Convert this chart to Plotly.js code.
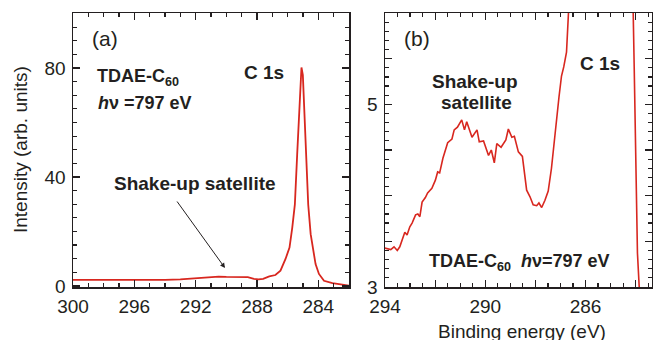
<!DOCTYPE html>
<html>
<head>
<meta charset="utf-8">
<script src="https://cdn.plot.ly/plotly-3.0.1.min.js"></script>
<style>
html,body{margin:0;padding:0;background:#fff;}
#wrap{position:relative;width:653px;height:340px;}
.panel{position:absolute;left:0;top:0;width:653px;height:340px;}
</style>
</head>
<body>
<div id="wrap"><div id="chartA" class="panel"></div><div id="chartB" class="panel"></div><div id="labels" class="panel"></div></div>
<script>
// Panel (a): full C 1s spectrum
const energyA = [300, 299, 298, 297, 296, 295, 294, 293, 292, 291.5, 291, 290.5, 290, 289.5, 289, 288.6, 288.2, 287.9, 287.6, 287.46, 287.2, 286.8, 286.47, 286.14, 285.88, 285.70, 285.53, 285.38, 285.27, 285.16, 285.10, 285.01, 284.90, 284.79, 284.66, 284.50, 284.35, 284.18, 283.96, 283.63, 283.08, 282.6, 282.1, 282.0];
const intensityA = [2.2, 2.2, 2.1, 2.1, 2.1, 2.2, 2.2, 2.4, 2.8, 3.1, 3.3, 3.4, 3.3, 3.3, 3.3, 3.2, 2.6, 2.4, 2.6, 3.0, 3.5, 4.0, 5.6, 9.9, 14.1, 21.4, 29.9, 48.2, 62.8, 77.4, 80.2, 77.4, 62.8, 48.2, 29.9, 19.0, 12.9, 8.0, 4.4, 1.9, 1.0, 0.6, 0.2, 0.1];

// Panel (b): magnified shake-up satellite region
const energyB = [294.05, 293.9, 293.77, 293.64, 293.51, 293.41, 293.31, 293.21, 293.12, 293.01, 292.92, 292.78, 292.69, 292.61, 292.52, 292.39, 292.30, 292.13, 291.99, 291.90, 291.82, 291.69, 291.50, 291.33, 291.24, 291.11, 290.94, 290.83, 290.74, 290.53, 290.33, 290.24, 290.07, 289.87, 289.76, 289.64, 289.54, 289.37, 289.18, 289.08, 288.94, 288.84, 288.68, 288.52, 288.35, 288.22, 288.09, 287.95, 287.86, 287.75, 287.62, 287.49, 287.36, 287.27, 287.16, 287.06, 286.96, 286.87, 286.76, 286.70, 286.66, 286.5, 286.0, 285.0, 284.3, 284.15, 284.10, 284.06, 283.99, 283.93, 283.86, 283.7];
const intensityB = [3.43, 3.42, 3.41, 3.44, 3.40, 3.44, 3.51, 3.60, 3.57, 3.66, 3.70, 3.79, 3.80, 3.77, 3.93, 3.98, 4.03, 4.08, 4.17, 4.26, 4.25, 4.41, 4.58, 4.62, 4.72, 4.75, 4.83, 4.72, 4.81, 4.64, 4.72, 4.59, 4.60, 4.44, 4.50, 4.36, 4.57, 4.53, 4.61, 4.73, 4.64, 4.65, 4.48, 4.43, 4.06, 3.99, 3.90, 3.89, 3.92, 3.87, 3.95, 4.05, 4.30, 4.55, 4.86, 5.08, 5.31, 5.41, 5.57, 5.84, 6.0, 7.0, 14, 100, 14, 7.0, 6.0, 5.41, 4.02, 3.37, 3.0, 2.5];

// Tick labels
const tickValsA = [284, 288, 292, 296, 300];
const tickValsB = [294, 292, 290, 288, 286, 284];
const tickTextB = ['294', '', '290', '', '286', ''];
const yTickValsB = [3, 3.5, 4, 4.5, 5, 5.5, 6];
const yTickTextB = ['3', '', '', '', '5', '', ''];

const W = 653, H = 340;
const red = '#d8271f';
const ink = '#231f20';
const FONT = 'Liberation Sans, Arial, Helvetica, sans-serif';
const px = x => x / W;
const py = y => 1 - y / H;

const axisCommon = {
  showgrid: false, zeroline: false, showline: true, linecolor: ink, linewidth: 1.5,
  ticks: 'inside', tickcolor: ink, tickwidth: 1.2, ticklen: 7,
  tickfont: {family: FONT, size: 19, color: ink}
};

function note(text, x, y, size, xanchor, angle) {
  return {text: text, x: px(x), y: py(y), xref: 'paper', yref: 'paper', xanchor: xanchor || 'center', yanchor: 'middle',
          textangle: angle || 0, showarrow: false, font: {family: FONT, size: size, color: ink}};
}

const baseLayout = {
  width: W, height: H,
  margin: {l: 0, r: 0, t: 0, b: 0},
  paper_bgcolor: 'rgba(0,0,0,0)', plot_bgcolor: 'rgba(0,0,0,0)',
  showlegend: false
};

const layoutA = Object.assign({}, baseLayout, {
  xaxis: Object.assign({}, axisCommon, {
    domain: [px(73), px(349)], range: [300, 282],
    tickmode: 'array', tickvals: tickValsA, mirror: 'ticks', ticklabelstandoff: 2,
    minor: {tickmode: 'linear', tick0: 300, dtick: 1, ticks: 'inside', ticklen: 4, tickcolor: ink, tickwidth: 1.2}
  }),
  yaxis: Object.assign({}, axisCommon, {
    domain: [1 - 287 / H, 1 - 13 / H], range: [-0.4, 100.2],
    tickmode: 'linear', tick0: 0, dtick: 40, mirror: 'ticks', ticklabelstandoff: 2,
    minor: {tickmode: 'linear', tick0: 0, dtick: 5, ticks: 'inside', ticklen: 4, tickcolor: ink, tickwidth: 1.2}
  })
});

const layoutB = Object.assign({}, baseLayout, {
  xaxis: Object.assign({}, axisCommon, {
    domain: [px(385), px(652)], range: [294, 283.35],
    tickmode: 'array', tickvals: tickValsB, ticktext: tickTextB, mirror: 'ticks', ticklabelstandoff: 2,
    minor: {tickmode: 'linear', tick0: 294, dtick: 0.5, ticks: 'inside', ticklen: 4, tickcolor: ink, tickwidth: 1.2}
  }),
  yaxis: Object.assign({}, axisCommon, {
    domain: [1 - 287 / H, 1 - 13 / H], range: [3, 6],
    tickmode: 'array', tickvals: yTickValsB, ticktext: yTickTextB, mirror: 'ticks', ticklabelstandoff: 2,
    minor: {tickmode: 'linear', tick0: 3, dtick: 0.1, ticks: 'inside', ticklen: 4, tickcolor: ink, tickwidth: 1.2}
  })
});

const layoutLabels = Object.assign({}, baseLayout, {
  xaxis: {visible: false}, yaxis: {visible: false},
  annotations: [
    note('Intensity (arb. units)', 20, 150, 19, 'center', -90),
    note('Binding energy (eV)', 522, 331, 19),
    note('(a)', 105, 38, 21),
    note('<b>TDAE-C<sub>60</sub></b>', 95, 78, 18, 'left'),
    note('<b><i>h</i>ν =797 eV</b>', 96, 103, 18, 'left'),
    note('<b>C 1s</b>', 264, 72, 19),
    note('<b>Shake-up satellite</b>', 195, 183, 19),
    {text: '', x: px(225), y: py(268), ax: px(176), ay: py(200), xref: 'paper', yref: 'paper', axref: 'paper', ayref: 'paper',
     showarrow: true, arrowhead: 2, arrowsize: 1, arrowwidth: 1, arrowcolor: ink},
    note('(b)', 417, 38, 21),
    note('<b>Shake-up</b>', 475, 81, 19),
    note('<b>satellite</b>', 476, 102, 19),
    note('<b>C 1s</b>', 600, 63, 19),
    note('<b>TDAE-C<sub>60</sub>  <i>h</i>ν=797 eV</b>', 427, 262, 18, 'left')
  ]
});

Plotly.newPlot('chartA', [{x: energyA, y: intensityA, mode: 'lines', line: {color: red, width: 1.8}, hoverinfo: 'skip'}], layoutA, {staticPlot: true, displayModeBar: false});
Plotly.newPlot('chartB', [{x: energyB, y: intensityB, mode: 'lines', line: {color: red, width: 1.6}, hoverinfo: 'skip'}], layoutB, {staticPlot: true, displayModeBar: false});
Plotly.newPlot('labels', [], layoutLabels, {staticPlot: true, displayModeBar: false});
</script>
</body>
</html>
